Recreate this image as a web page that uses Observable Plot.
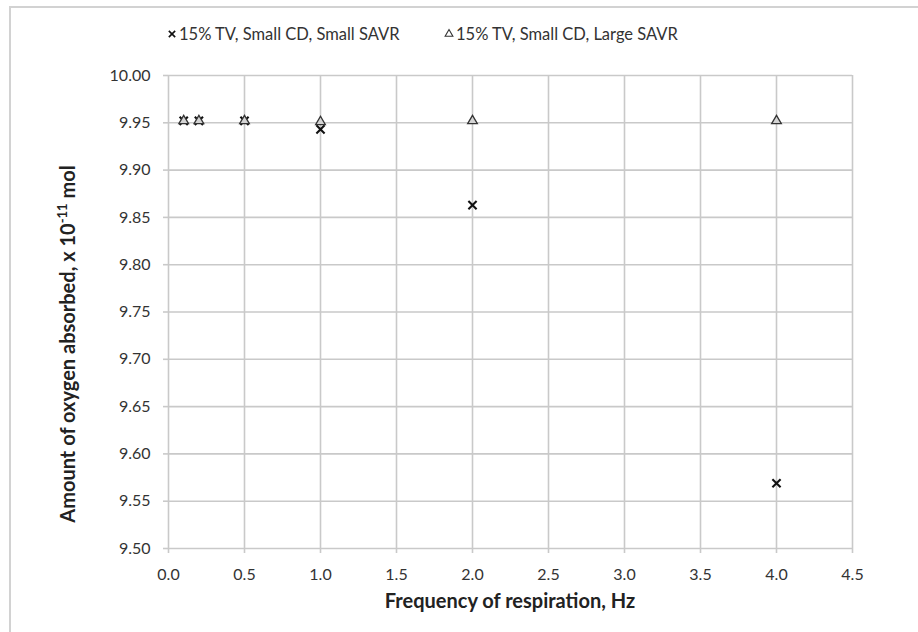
<!DOCTYPE html>
<html><head><meta charset="utf-8">
<script src="https://cdn.jsdelivr.net/npm/d3@7"></script>
<script src="https://cdn.jsdelivr.net/npm/@observablehq/plot@0.6"></script>
<style>
body{margin:0;background:#fff;}
#wrap{position:relative;width:918px;height:632px;overflow:hidden;background:#fff;font-family:Lato,"Open Sans",sans-serif;}
#frame{position:absolute;left:9px;top:6px;width:1000px;height:1000px;border-top:2px solid #d2d2d2;border-left:2px solid #d2d2d2;pointer-events:none;}
#chart{position:absolute;left:0;top:0;}
</style>
</head><body>
<div id="wrap"><div id="chart"></div><div id="frame"></div></div>
<script>
const freq = [0.1, 0.2, 0.5, 1.0, 2.0, 4.0];
const smallSAVR = [9.952, 9.952, 9.952, 9.943, 9.863, 9.569];
const largeSAVR = [9.952, 9.952, 9.952, 9.951, 9.952, 9.952];
const seriesNames = ["15% TV, Small CD, Small SAVR", "15% TV, Small CD, Large SAVR"];
const xTicks = [0, 0.5, 1.0, 1.5, 2.0, 2.5, 3.0, 3.5, 4.0, 4.5];
const yTicks = [9.50, 9.55, 9.60, 9.65, 9.70, 9.75, 9.80, 9.85, 9.90, 9.95, 10.00];

const rows1 = freq.map((f, i) => ({x: f, y: smallSAVR[i]}));
const rows2 = freq.map((f, i) => ({x: f, y: largeSAVR[i]}));

const W = 918, H = 632;
const gridColor = "#c9c9c9";
const textColor = "#333";
const fontFam = "Lato, 'Open Sans', sans-serif";

const plot = Plot.plot({
  width: W, height: H,
  marginLeft: 168, marginRight: 66, marginTop: 75, marginBottom: 84,
  style: {fontFamily: fontFam, fontSize: "16px", color: textColor, background: "transparent"},
  x: {domain: [0, 4.5], ticks: xTicks, tickFormat: d3.format(".1f")},
  y: {domain: [9.5, 10], ticks: yTicks, tickFormat: d3.format(".2f")},
  marks: [
    Plot.gridX(xTicks, {stroke: gridColor, strokeOpacity: 1, strokeWidth: 1.6}),
    Plot.gridY(yTicks, {stroke: gridColor, strokeOpacity: 1, strokeWidth: 1.6}),
    Plot.axisX(xTicks, {tickSize: 5, tickPadding: 15, stroke: gridColor, strokeWidth: 1.6, tickFormat: d3.format(".1f"), label: null, fill: textColor}),
    Plot.axisY(yTicks, {tickSize: 5, tickPadding: 13, stroke: gridColor, strokeWidth: 1.6, tickFormat: d3.format(".2f"), label: null, fill: textColor}),
    Plot.dot(rows1, {x: "x", y: "y", symbol: "times", r: 3.8, stroke: "#111", strokeWidth: 2.1}),
    Plot.dot(rows2, {x: "x", y: "y", symbol: "triangle", r: 3.6, stroke: "#333", fill: "#d4d4d4", strokeWidth: 1.3})
  ]
});
document.getElementById("chart").appendChild(plot);

const svg = d3.select(plot);
// Axis titles
svg.append("text")
  .attr("x", 510).attr("y", 608)
  .attr("text-anchor", "middle")
  .attr("font-family", fontFam).attr("font-weight", "bold").attr("font-size", 20)
  .attr("fill", "#222")
  .text("Frequency of respiration, Hz");

const yt = svg.append("text")
  .attr("transform", "translate(75,344) rotate(-90)")
  .attr("text-anchor", "middle")
  .attr("font-family", fontFam).attr("font-weight", "bold").attr("font-size", 20)
  .attr("fill", "#222");
yt.append("tspan").text("Amount of oxygen absorbed, x 10");
yt.append("tspan").attr("dy", -8).attr("font-size", 13).text("-11");
yt.append("tspan").attr("dy", 8).text(" mol");

// Legend
const lg = svg.append("g").attr("font-family", fontFam).attr("font-size", 16.5).attr("fill", textColor).attr("text-anchor", "start");
const legendX = [172, 449];
const symbols = [d3.symbolTimes, d3.symbolTriangle];
seriesNames.forEach((name, i) => {
  const g = lg.append("g").attr("transform", `translate(${legendX[i]},34)`);
  g.append("path").attr("d", d3.symbol(symbols[i], i === 0 ? 28 : 26)())
    .attr("stroke", i === 0 ? "#111" : "#333").attr("stroke-width", i === 0 ? 1.6 : 1.1)
    .attr("fill", i === 0 ? "none" : "#fff");
  g.append("text").attr("x", 7).attr("dy", "0.35em").attr("text-anchor", "start").text(name);
});
</script>
</body></html>
